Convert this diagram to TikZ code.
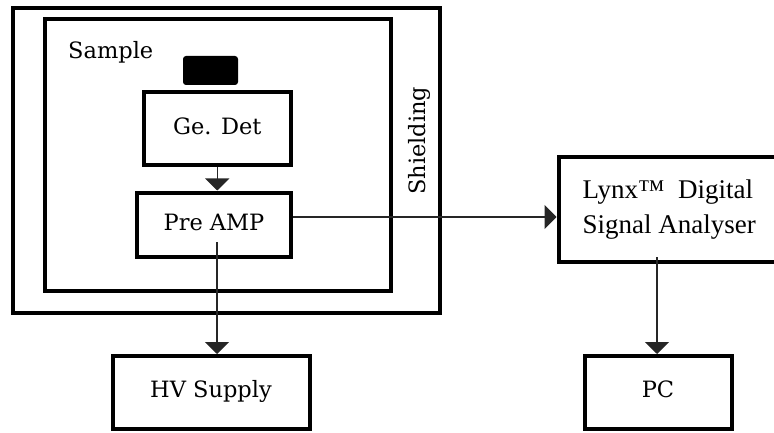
\documentclass[tikz,border=0pt]{standalone}
\usepackage{fontspec}
\setmainfont{DejaVu Serif}
\newfontfamily\lynxfont{Liberation Serif}
\usetikzlibrary{arrows.meta}

\begin{document}
\begin{tikzpicture}[x=1pt, y=-1pt,
  frame/.style={draw, line width=4pt, inner sep=0pt},
  box/.style={frame, font=\fontsize{22.5}{27}\selectfont, text height=17pt, text depth=6pt},
  lbl/.style={inner sep=0pt, font=\fontsize{22.5}{27}\selectfont},
  wire/.style={line width=1.4pt, draw=black!85},
  feed/.style={wire, -{Triangle[width=24pt,length=12pt]}}]

\useasboundingbox (0,0) rectangle (774,433);
\clip (0,0) rectangle (774,433);

% shielding and sample
\node[frame, minimum width=427.5pt, minimum height=305pt] (shield) at (226.25,160.5) {};
\node[frame, minimum width=346.5pt, minimum height=272pt] (sample) at (217.75,155) {};
\node[lbl, anchor=base west] (samplelbl) at (68,59) {Sample};
\node[lbl, rotate=90, anchor=base west] (shieldlbl) at (425,195) {Shielding};

% source on top of the detector
\node[fill=black, rounded corners=3pt, minimum width=55pt, minimum height=29pt] (src) at (210.5,70.5) {};

\node[box, minimum width=147.5pt, minimum height=72.5pt] (gedet) at (217.25,128.75) {Ge. Det};
\node[box, minimum width=154pt, minimum height=64pt] (preamp) at (214,224.5) {Pre AMP};
\node[box, minimum width=197pt, minimum height=72.5pt] (hv) at (211,392.25) {HV Supply};
\node[box, minimum width=147pt, minimum height=72.5pt] (pc) at (658,392.25) {PC};
\node[frame, minimum width=221.5pt, minimum height=104pt, align=left,
  font=\lynxfont\fontsize{27}{35}\selectfont] (lynx) at (669.25,209.5) {Lynx™\ \ Digital\\Signal Analyser};

% signal paths
\coordinate (ampout) at (217,242);
\coordinate (lynxout) at (657,257);

\draw[feed] (gedet.south) -- (gedet.south |- preamp.north);
\draw[feed] (ampout) -- (ampout |- hv.north);
\draw[feed] ([yshift=7.5pt]preamp.east) -- ([yshift=7.5pt]preamp.east -| lynx.west);
\draw[feed] (lynxout) -- (lynxout |- pc.north);

\end{tikzpicture}
\end{document}
